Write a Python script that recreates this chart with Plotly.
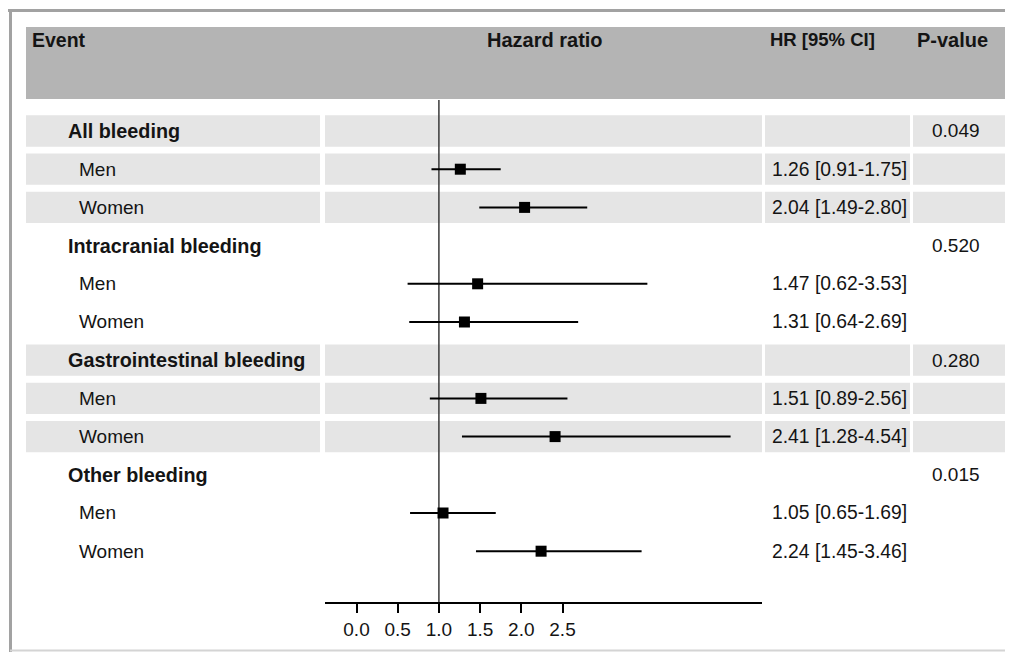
import plotly.graph_objects as go

# ---------------- data ----------------
groups = ["All bleeding", "Intracranial bleeding", "Gastrointestinal bleeding", "Other bleeding"]
subgroups = ["Men", "Women"]
p_values = ["0.049", "0.520", "0.280", "0.015"]
hr_men = [1.26, 1.47, 1.51, 1.05]
lo_men = [0.91, 0.62, 0.89, 0.65]
hi_men = [1.75, 3.53, 2.56, 1.69]
hr_women = [2.04, 1.31, 2.41, 2.24]
lo_women = [1.49, 0.64, 1.28, 1.45]
hi_women = [2.80, 2.69, 4.54, 3.46]
shaded_groups = [0, 2]
tick_vals = [0.0, 0.5, 1.0, 1.5, 2.0, 2.5]
tick_text = ["0.0", "0.5", "1.0", "1.5", "2.0", "2.5"]
headers = ["Event", "Hazard ratio", "HR [95% CI]", "P-value"]

# the page body has an 8px margin, so the figure is drawn 8px in from the window edge
OFF = 8
W, H = 1013 - OFF, 652 - OFF
FONT = "Liberation Sans, Arial, sans-serif"
FS = 19
TXT = "#141414"

def px(x):
    return (x - OFF) / W

def py(y):
    return 1 - (y - OFF) / H

rows_y, rows_hr, rows_lo, rows_hi = [], [], [], []
annotations = []
shapes = []

col_cells = [(26, 320), (325, 762), (765, 910), (913, 1009)]

for g, name in enumerate(groups):
    base = g * 3 + 1
    annotations.append(dict(x=px(66), y=base, xref="paper", yref="y", text="<b>" + name + "</b>",
                            xanchor="left", yanchor="middle", showarrow=False,
                            font=dict(family=FONT, size=19.8, color=TXT)))
    annotations.append(dict(x=px(982), y=base, xref="paper", yref="y", text=p_values[g],
                            xanchor="right", yanchor="middle", showarrow=False,
                            font=dict(family=FONT, size=FS, color=TXT)))
    hrs = [hr_men[g], hr_women[g]]
    los = [lo_men[g], lo_women[g]]
    his = [hi_men[g], hi_women[g]]
    for s, sub in enumerate(subgroups):
        r = base + 1 + s
        rows_y.append(r)
        rows_hr.append(hrs[s])
        rows_lo.append(los[s])
        rows_hi.append(his[s])
        annotations.append(dict(x=px(77), y=r, xref="paper", yref="y", text=sub,
                                xanchor="left", yanchor="middle", showarrow=False,
                                font=dict(family=FONT, size=FS, color=TXT)))
        annotations.append(dict(x=px(770), y=r, xref="paper", yref="y",
                                text=f"{hrs[s]:.2f} [{los[s]:.2f}-{his[s]:.2f}]",
                                xanchor="left", yanchor="middle", showarrow=False,
                                font=dict(family=FONT, size=19.3, color=TXT)))
    if g in shaded_groups:
        for r in range(base, base + 3):
            for (a, b) in col_cells:
                shapes.append(dict(type="rect", xref="paper", yref="y", x0=px(a), x1=px(b),
                                   y0=r - 0.41, y1=r + 0.41, fillcolor="#e5e5e5",
                                   line=dict(width=0), layer="below"))

# header band
shapes.append(dict(type="rect", xref="paper", yref="paper", x0=px(26), x1=px(1009),
                   y0=py(99), y1=py(27), fillcolor="#b4b4b4", line=dict(width=0), layer="below"))
# frame
shapes.append(dict(type="line", xref="paper", yref="paper", x0=px(8), x1=1, y0=py(10.5), y1=py(10.5),
                   line=dict(color="#a2a2a2", width=3)))
shapes.append(dict(type="line", xref="paper", yref="paper", x0=px(10.5), x1=px(10.5), y0=0, y1=py(9),
                   line=dict(color="#a2a2a2", width=3)))
shapes.append(dict(type="line", xref="paper", yref="paper", x0=px(10), x1=1, y0=py(650.5), y1=py(650.5),
                   line=dict(color="#d4d4d4", width=2)))
# reference line at HR = 1
shapes.append(dict(type="line", xref="x", yref="y domain", x0=1, x1=1, y0=0, y1=1,
                   line=dict(color="#3a3a3a", width=1.5), layer="below"))

header_x = [30, 485, 768, 915]
header_fs = [19.5, 20, 18.5, 20]
for hx, ht, hf in zip(header_x, headers, header_fs):
    annotations.append(dict(x=px(hx), y=py(40), xref="paper", yref="paper", text="<b>" + ht + "</b>",
                            xanchor="left", yanchor="middle", showarrow=False,
                            font=dict(family=FONT, size=hf, color=TXT)))

fig = go.Figure()
fig.add_trace(go.Scatter(
    x=rows_hr, y=rows_y, mode="markers",
    marker=dict(symbol="square", size=11, color="black"),
    error_x=dict(type="data", symmetric=False,
                 array=[h - m for h, m in zip(rows_hi, rows_hr)],
                 arrayminus=[m - l for m, l in zip(rows_hr, rows_lo)],
                 color="black", thickness=2, width=0),
    showlegend=False, hoverinfo="skip"))

# pixel geometry of the plot area (window coordinates)
x_left, x_right = 325, 762
x0_px, unit = 356.5, 82.4
row1_px, pitch = 131, 38.2
y_top, y_bot = 100, 602

fig.update_layout(
    width=W, height=H, autosize=False,
    margin=dict(l=0, r=0, t=0, b=0),
    paper_bgcolor="white", plot_bgcolor="rgba(0,0,0,0)",
    shapes=shapes, annotations=annotations,
    xaxis=dict(domain=[px(x_left), px(x_right)],
               range=[(x_left - x0_px) / unit, (x_right - x0_px) / unit],
               tickvals=tick_vals, ticktext=tick_text, ticks="outside", ticklen=9,
               tickwidth=1.5, tickcolor="black", showline=True, linecolor="black", linewidth=1.5,
               showgrid=False, zeroline=False,
               tickfont=dict(family=FONT, size=FS, color=TXT)),
    yaxis=dict(domain=[py(y_bot), py(y_top)],
               range=[1 + (y_bot - row1_px) / pitch, 1 + (y_top - row1_px) / pitch],
               visible=False, showgrid=False, zeroline=False),
)

fig.write_html("out.html")
